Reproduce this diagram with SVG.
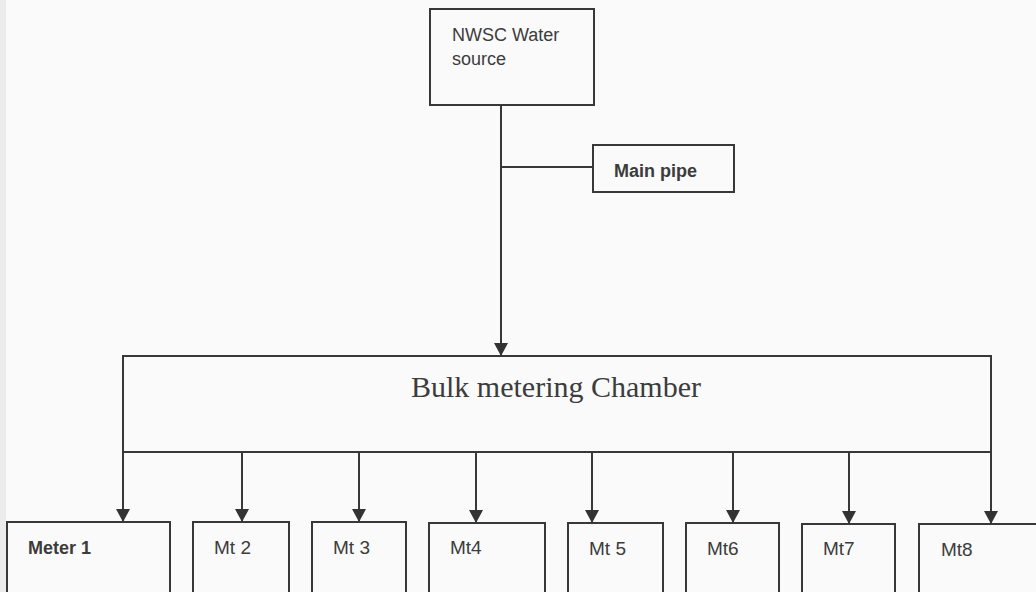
<svg xmlns="http://www.w3.org/2000/svg" width="1036" height="592" viewBox="0 0 1036 592">
<defs>
<style>
.box{fill:none;stroke:#383838;stroke-width:2}
.ln{fill:none;stroke:#383838;stroke-width:2}
.arr{fill:none;stroke:#383838;stroke-width:2;marker-end:url(#ah)}
.lbl{font-family:"Liberation Sans",Arial,sans-serif;font-size:19px;fill:#3c3c3c}
.b{font-weight:bold}
.serif{font-family:"Liberation Serif","Times New Roman",serif;font-size:30px;fill:#3c3c3c}
</style>
<marker id="ah" viewBox="0 0 13 14" refX="13" refY="7" markerWidth="13" markerHeight="14" markerUnits="userSpaceOnUse" orient="auto">
<path d="M0,0 L13,7 L0,14 Z" fill="#333"/>
</marker>
</defs>
<rect x="0" y="0" width="1036" height="592" fill="#fafafa"/>
<rect x="0" y="0" width="6" height="592" fill="#ececec"/>

<g id="connectors">
<path class="arr" d="M501,105 V356"/>
<path class="ln" d="M501,167 H593"/>
<path class="arr" d="M123,452 V522"/>
<path class="arr" d="M242,452 V522"/>
<path class="arr" d="M359,452 V522"/>
<path class="arr" d="M476,452 V523"/>
<path class="arr" d="M592,452 V523"/>
<path class="arr" d="M733,452 V523"/>
<path class="arr" d="M849,452 V524"/>
<path class="arr" d="M991,452 V524"/>
</g>

<g id="nwsc">
<rect class="box" x="430" y="9" width="164" height="96"/>
<text class="lbl" x="452" y="41" style="font-size:18px">NWSC Water</text>
<text class="lbl" x="452" y="65" style="font-size:18px">source</text>
</g>

<g id="mainpipe">
<rect class="box" x="593" y="145" width="141" height="47"/>
<text class="lbl b" x="614" y="177" style="font-size:18px">Main pipe</text>
</g>

<g id="bulk">
<rect class="box" x="123" y="356" width="868" height="96"/>
<text class="serif" x="411" y="397">Bulk metering Chamber</text>
</g>

<g id="meter1"><rect class="box" x="7" y="522" width="163" height="80"/><text class="lbl b" x="28" y="554" style="font-size:18px">Meter 1</text></g>
<g id="mt2"><rect class="box" x="193" y="522" width="96" height="80"/><text class="lbl" x="214" y="554">Mt 2</text></g>
<g id="mt3"><rect class="box" x="312" y="522" width="94" height="80"/><text class="lbl" x="333" y="554">Mt 3</text></g>
<g id="mt4"><rect class="box" x="429" y="523" width="116" height="80"/><text class="lbl" x="450" y="554">Mt4</text></g>
<g id="mt5"><rect class="box" x="568" y="523" width="95" height="80"/><text class="lbl" x="589" y="555">Mt 5</text></g>
<g id="mt6"><rect class="box" x="686" y="523" width="93" height="80"/><text class="lbl" x="707" y="555">Mt6</text></g>
<g id="mt7"><rect class="box" x="802" y="524" width="93" height="80"/><text class="lbl" x="823" y="555">Mt7</text></g>
<g id="mt8"><rect class="box" x="919" y="524" width="125" height="80"/><text class="lbl" x="941" y="556">Mt8</text></g>
</svg>
